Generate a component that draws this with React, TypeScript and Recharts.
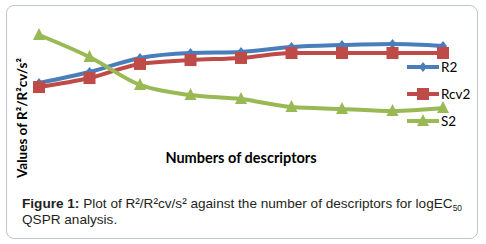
import { LineChart, Line, XAxis, YAxis } from 'recharts';

const descriptors = ['1', '2', '3', '4', '5', '6', '7', '8', '9'];
const r2Values = [0.58, 0.653, 0.747, 0.78, 0.787, 0.82, 0.833, 0.84, 0.827];
const rcv2Values = [0.553, 0.613, 0.707, 0.733, 0.747, 0.78, 0.78, 0.78, 0.78];
const s2Values = [0.9, 0.753, 0.567, 0.5, 0.473, 0.42, 0.407, 0.393, 0.413];

const seriesMeta = [
  { key: 'R2', color: '#4a7ebb', shape: 'diamond' },
  { key: 'Rcv2', color: '#be4b48', shape: 'square' },
  { key: 'S2', color: '#98b954', shape: 'triangle' },
];

const data = descriptors.map((d, i) => ({
  name: d,
  R2: r2Values[i],
  Rcv2: rcv2Values[i],
  S2: s2Values[i],
}));

function Marker({ cx, cy, shape, color }: any) {
  if (cx == null || cy == null) return null;
  if (shape === 'diamond') {
    return <path d={`M${cx},${cy - 5} L${cx + 4},${cy} L${cx},${cy + 5} L${cx - 4},${cy} Z`} fill={color} />;
  }
  if (shape === 'square') {
    return <rect x={cx - 6} y={cy - 6} width={12} height={12} fill={color} />;
  }
  return <path d={`M${cx},${cy - 7} L${cx + 6},${cy + 5} L${cx - 6},${cy + 5} Z`} fill={color} />;
}

function LegendBox() {
  return (
    <div style={{ fontFamily: 'Lato', fontSize: 13.5, color: '#000' }}>
      {seriesMeta.map((s) => (
        <div key={s.key} style={{ display: 'flex', alignItems: 'center', height: 27 }}>
          <svg width={34} height={14}>
            <line x1={1} y1={7} x2={33} y2={7} stroke={s.color} strokeWidth={4} />
            <Marker cx={17} cy={7} shape={s.shape} color={s.color} />
          </svg>
          <span style={{ marginLeft: 1 }}>{s.key}</span>
        </div>
      ))}
    </div>
  );
}

export default function App() {
  return (
    <div style={{ position: 'absolute', left: 0, top: 0, width: 486, height: 244, background: '#fff' }}>
      <div
        style={{
          position: 'absolute',
          left: 6,
          top: 5,
          width: 470,
          height: 232,
          border: '1px solid #bfc6c9',
          borderRadius: 8,
        }}
      />
      <div style={{ position: 'absolute', left: 0, top: 0 }}>
        <LineChart width={486} height={244} data={data} margin={{ top: 20, right: 43, bottom: 74, left: 39 }}>
          <XAxis dataKey="name" hide />
          <YAxis domain={[0, 1]} hide />
          {seriesMeta.map((s) => (
            <Line
              key={s.key}
              type="monotone"
              dataKey={s.key}
              stroke={s.color}
              strokeWidth={4}
              isAnimationActive={false}
              dot={(p: any) => <Marker key={`${s.key}-${p.index}`} cx={p.cx} cy={p.cy} shape={s.shape} color={s.color} />}
              activeDot={false}
            />
          ))}
        </LineChart>
      </div>
      <div style={{ position: 'absolute', left: 406, top: 53 }}>
        <LegendBox />
      </div>
      <div
        style={{
          position: 'absolute',
          left: 0,
          width: 482,
          top: 149,
          textAlign: 'center',
          fontFamily: 'Lato',
          fontWeight: 700,
          fontSize: 14.5,
          color: '#000',
        }}
      >
        Numbers of descriptors
      </div>
      <div
        style={{
          position: 'absolute',
          left: 22,
          top: 118,
          transform: 'translate(-50%, -50%) rotate(-90deg)',
          whiteSpace: 'nowrap',
          fontFamily: 'Lato',
          fontWeight: 700,
          fontSize: 13.5,
          color: '#000',
        }}
      >
        Values of R²/R²cv/s²
      </div>
      <div
        style={{
          position: 'absolute',
          left: 22,
          top: 196,
          width: 460,
          fontFamily: 'Liberation Sans',
          fontSize: 13.6,
          lineHeight: '16px',
          color: '#231f20',
        }}
      >
        <b>Figure 1:</b> Plot of R²/R²cv/s² against the number of descriptors for logEC
        <sub style={{ fontSize: 8.5, verticalAlign: '-3px', lineHeight: 0 }}>50</sub>
        <br />
        QSPR analysis.
      </div>
    </div>
  );
}
